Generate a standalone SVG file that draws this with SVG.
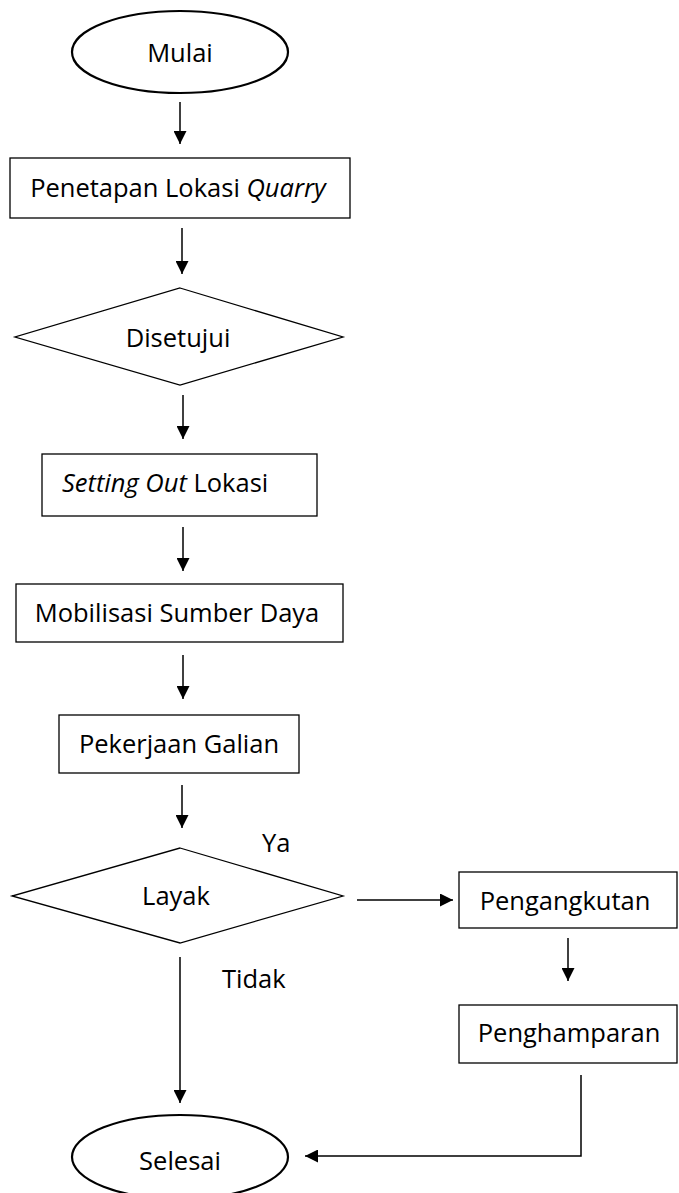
<svg xmlns="http://www.w3.org/2000/svg" width="679" height="1193" viewBox="0 0 679 1193">
  <style>
    .shape { fill: #ffffff; stroke: #000000; stroke-width: 1.3; }
    .term { fill: #ffffff; stroke: #000000; stroke-width: 2.2; }
    .label { font-family: "Open Sans", "Liberation Sans", sans-serif; font-size: 25.5px; fill: #000000; }
    .mid { text-anchor: middle; }
    .link { fill: none; stroke: #000000; stroke-width: 1.5; }
  </style>
  <defs>
    <marker id="arrow" viewBox="0 0 10 10" refX="10" refY="5" markerWidth="14" markerHeight="13" markerUnits="userSpaceOnUse" orient="auto">
      <path d="M0,0 L10,5 L0,10 Z" fill="#000000"/>
    </marker>
  </defs>

  <rect width="679" height="1193" fill="#ffffff"/>

  <g id="connectors">
    <line class="link" x1="180" y1="102" x2="180" y2="144" marker-end="url(#arrow)"/>
    <line class="link" x1="182" y1="228" x2="182" y2="274" marker-end="url(#arrow)"/>
    <line class="link" x1="183" y1="395" x2="183" y2="439" marker-end="url(#arrow)"/>
    <line class="link" x1="183" y1="527" x2="183" y2="571" marker-end="url(#arrow)"/>
    <line class="link" x1="183" y1="655" x2="183" y2="699" marker-end="url(#arrow)"/>
    <line class="link" x1="182" y1="785" x2="182" y2="828" marker-end="url(#arrow)"/>
    <line class="link" x1="357" y1="900" x2="453" y2="900" marker-end="url(#arrow)"/>
    <line class="link" x1="568" y1="938" x2="568" y2="981" marker-end="url(#arrow)"/>
    <line class="link" x1="180" y1="957" x2="180" y2="1103" marker-end="url(#arrow)"/>
    <polyline class="link" points="581,1075 581,1156 305,1156" marker-end="url(#arrow)"/>
  </g>

  <g id="mulai">
    <ellipse class="term" cx="180" cy="52" rx="108" ry="41"/>
    <text class="label mid" x="180" y="62">Mulai</text>
  </g>

  <g id="penetapan-lokasi">
    <rect class="shape" x="10" y="158" width="340" height="60"/>
    <text class="label mid" x="178" y="197">Penetapan Lokasi <tspan font-style="italic">Quarry</tspan></text>
  </g>

  <g id="disetujui">
    <polygon class="shape" points="180,288 343,337 180,385 15,337"/>
    <text class="label mid" x="178" y="347">Disetujui</text>
  </g>

  <g id="setting-out">
    <rect class="shape" x="42" y="454" width="275" height="62"/>
    <text class="label" x="62" y="492"><tspan font-style="italic">Setting Out</tspan> Lokasi</text>
  </g>

  <g id="mobilisasi">
    <rect class="shape" x="16" y="584" width="327" height="58"/>
    <text class="label mid" x="177" y="622">Mobilisasi Sumber Daya</text>
  </g>

  <g id="pekerjaan-galian">
    <rect class="shape" x="59" y="715" width="240" height="58"/>
    <text class="label mid" x="179" y="753">Pekerjaan Galian</text>
  </g>

  <g id="layak">
    <polygon class="shape" points="180,848 343,896 180,943 12,896"/>
    <text class="label mid" x="176" y="905">Layak</text>
  </g>

  <g id="pengangkutan">
    <rect class="shape" x="459" y="872" width="218" height="56"/>
    <text class="label mid" x="565" y="910">Pengangkutan</text>
  </g>

  <g id="penghamparan">
    <rect class="shape" x="459" y="1005" width="218" height="58"/>
    <text class="label mid" x="569" y="1042">Penghamparan</text>
  </g>

  <g id="selesai">
    <ellipse class="term" cx="180" cy="1157" rx="108" ry="42"/>
    <text class="label mid" x="180" y="1170">Selesai</text>
  </g>

  <g id="branch-labels">
    <text class="label" x="262" y="852">Ya</text>
    <text class="label" x="222" y="988">Tidak</text>
  </g>
</svg>
